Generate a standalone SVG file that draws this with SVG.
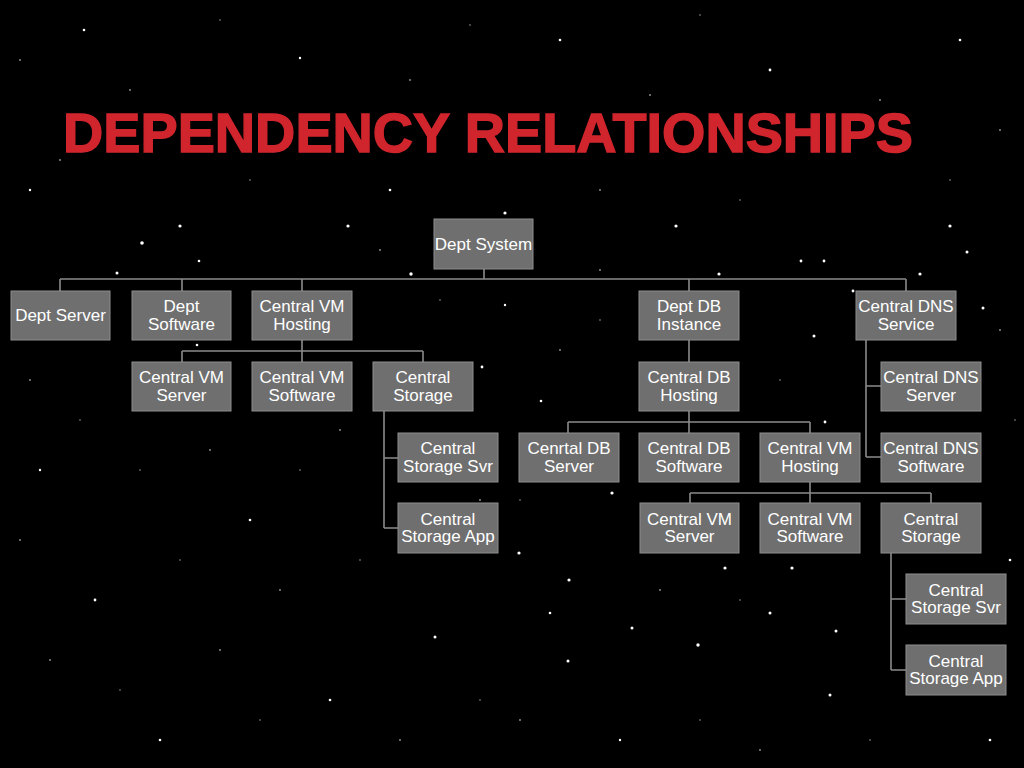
<svg xmlns="http://www.w3.org/2000/svg" width="1024" height="768" viewBox="0 0 1024 768">
<style>
.node rect{fill:#6f6f6f;stroke:#8e8e8e;stroke-width:1}
.node text{fill:#ffffff;font-family:"Liberation Sans",Arial,sans-serif;font-size:17px;text-anchor:middle}
.conn path{fill:none;stroke:#8a8a8a;stroke-width:1.6}
.title{fill:#d1252d;stroke:#d1252d;stroke-width:1.4;font-family:"Liberation Sans",Arial,sans-serif;font-weight:bold;font-size:55px}
.stars circle{fill:#ffffff}
.faint circle{fill:#9a9a9a}
</style>
<rect x="0" y="0" width="1024" height="768" fill="#000000"/>
<g class="stars">
<circle cx="180" cy="226" r="1.6"/><circle cx="142" cy="243" r="1.8"/><circle cx="117" cy="273" r="1.5"/>
<circle cx="348" cy="226" r="1.6"/><circle cx="411" cy="274" r="1.7"/><circle cx="199" cy="261" r="1.3"/>
<circle cx="197" cy="345" r="1.3"/><circle cx="482" cy="367" r="1.4"/><circle cx="505" cy="213" r="1.6"/>
<circle cx="676" cy="226" r="1.6"/><circle cx="950" cy="226" r="1.6"/><circle cx="967" cy="252" r="1.5"/>
<circle cx="801" cy="261" r="1.4"/><circle cx="824" cy="261" r="1.4"/><circle cx="719" cy="274" r="1.6"/>
<circle cx="920" cy="274" r="1.6"/><circle cx="983" cy="308" r="1.5"/><circle cx="814" cy="336" r="1.5"/>
<circle cx="825" cy="422" r="1.4"/><circle cx="541" cy="401" r="1.3"/><circle cx="505" cy="305" r="1.2"/>
<circle cx="853" cy="291" r="1.4"/><circle cx="612" cy="493" r="1.6"/><circle cx="519" cy="553" r="1.6"/>
<circle cx="725" cy="568" r="1.6"/><circle cx="792" cy="568" r="1.6"/><circle cx="569" cy="580" r="1.6"/>
<circle cx="770" cy="613" r="1.5"/><circle cx="632" cy="628" r="1.5"/><circle cx="836" cy="631" r="1.5"/>
<circle cx="435" cy="637" r="1.5"/><circle cx="698" cy="645" r="1.7"/><circle cx="568" cy="661" r="1.5"/>
<circle cx="830" cy="695" r="1.5"/><circle cx="550" cy="613" r="1.3"/><circle cx="84" cy="30" r="1.3"/>
<circle cx="300" cy="58" r="1.2"/><circle cx="560" cy="40" r="1.3"/><circle cx="770" cy="70" r="1.4"/>
<circle cx="960" cy="40" r="1.3"/><circle cx="30" cy="190" r="1.2"/><circle cx="390" cy="190" r="1.3"/>
<circle cx="250" cy="520" r="1.3"/><circle cx="95" cy="600" r="1.4"/><circle cx="330" cy="700" r="1.3"/>
<circle cx="160" cy="740" r="1.3"/><circle cx="40" cy="470" r="1.2"/><circle cx="990" cy="740" r="1.3"/>
<circle cx="620" cy="740" r="1.2"/><circle cx="1010" cy="560" r="1.3"/>
</g>
<g class="faint">
<circle cx="20" cy="60" r="0.9"/><circle cx="130" cy="90" r="0.9"/><circle cx="220" cy="20" r="0.8"/><circle cx="410" cy="80" r="0.9"/>
<circle cx="470" cy="25" r="0.8"/><circle cx="650" cy="95" r="0.9"/><circle cx="700" cy="15" r="0.8"/><circle cx="880" cy="100" r="0.9"/>
<circle cx="1000" cy="130" r="0.9"/><circle cx="950" cy="180" r="0.8"/><circle cx="60" cy="160" r="0.9"/><circle cx="250" cy="180" r="0.8"/>
<circle cx="600" cy="190" r="0.9"/><circle cx="740" cy="200" r="0.8"/><circle cx="30" cy="380" r="0.9"/><circle cx="80" cy="420" r="0.8"/>
<circle cx="20" cy="540" r="0.9"/><circle cx="140" cy="470" r="0.8"/><circle cx="210" cy="450" r="0.9"/><circle cx="300" cy="470" r="0.8"/>
<circle cx="340" cy="430" r="0.9"/><circle cx="180" cy="560" r="0.8"/><circle cx="280" cy="590" r="0.9"/><circle cx="360" cy="560" r="0.8"/>
<circle cx="50" cy="660" r="0.9"/><circle cx="120" cy="690" r="0.8"/><circle cx="220" cy="650" r="0.9"/><circle cx="260" cy="720" r="0.8"/>
<circle cx="400" cy="740" r="0.9"/><circle cx="480" cy="700" r="0.8"/><circle cx="520" cy="720" r="0.9"/><circle cx="700" cy="720" r="0.8"/>
<circle cx="760" cy="750" r="0.9"/><circle cx="870" cy="740" r="0.8"/><circle cx="1000" cy="680" r="0.9"/><circle cx="1015" cy="420" r="0.8"/>
<circle cx="1000" cy="330" r="0.9"/><circle cx="600" cy="320" r="0.8"/><circle cx="560" cy="350" r="0.9"/><circle cx="780" cy="380" r="0.8"/>
<circle cx="600" cy="270" r="0.9"/><circle cx="440" cy="300" r="0.8"/><circle cx="380" cy="250" r="0.9"/><circle cx="830" cy="470" r="0.8"/>
<circle cx="480" cy="500" r="0.9"/><circle cx="520" cy="500" r="0.8"/><circle cx="660" cy="590" r="0.9"/><circle cx="740" cy="600" r="0.8"/>
</g>
<text class="title" x="63" y="152" textLength="850" lengthAdjust="spacingAndGlyphs">DEPENDENCY RELATIONSHIPS</text>
<g class="conn" id="connectors">
<path d="M484 269V279M60 279H906M60 279V291M182 279V291M302 279V291M689 279V291M906 279V291"/>
<path d="M302 340V351M182 351H423M182 351V362M302 351V362M423 351V362"/>
<path d="M384 411V528M384 458H398M384 528H398"/>
<path d="M689 340V362"/>
<path d="M689 411V422M568 422H810M568 422V433M689 422V433M810 422V433"/>
<path d="M866 340V457M866 386H881M866 457H881"/>
<path d="M810 482V493M690 493H931M690 493V503M810 493V503M931 493V503"/>
<path d="M891 553V670M891 599H906M891 670H906"/>
</g>
<g class="node" id="dept-system"><rect x="434" y="219" width="99" height="50"/><text x="483.5" y="250">Dept System</text></g>
<g class="node" id="dept-server"><rect x="11" y="291" width="99" height="49"/><text x="60.5" y="321">Dept Server</text></g>
<g class="node" id="dept-software"><rect x="132" y="291" width="99" height="49"/><text x="181.5" y="312">Dept</text><text x="181.5" y="329.5">Software</text></g>
<g class="node" id="central-vm-hosting"><rect x="252" y="291" width="100" height="49"/><text x="302" y="312">Central VM</text><text x="302" y="329.5">Hosting</text></g>
<g class="node" id="dept-db-instance"><rect x="639" y="291" width="100" height="49"/><text x="689" y="312">Dept DB</text><text x="689" y="329.5">Instance</text></g>
<g class="node" id="central-dns-service"><rect x="856" y="291" width="100" height="49"/><text x="906" y="312">Central DNS</text><text x="906" y="329.5">Service</text></g>
<g class="node" id="central-vm-server"><rect x="132" y="362" width="99" height="49"/><text x="181.5" y="383">Central VM</text><text x="181.5" y="400.5">Server</text></g>
<g class="node" id="central-vm-software"><rect x="252" y="362" width="100" height="49"/><text x="302" y="383">Central VM</text><text x="302" y="400.5">Software</text></g>
<g class="node" id="central-storage"><rect x="373" y="362" width="100" height="49"/><text x="423" y="383">Central</text><text x="423" y="400.5">Storage</text></g>
<g class="node" id="central-db-hosting"><rect x="639" y="362" width="100" height="49"/><text x="689" y="383">Central DB</text><text x="689" y="400.5">Hosting</text></g>
<g class="node" id="central-dns-server"><rect x="881" y="362" width="100" height="49"/><text x="931" y="383">Central DNS</text><text x="931" y="400.5">Server</text></g>
<g class="node" id="central-storage-svr"><rect x="398" y="433" width="100" height="49"/><text x="448" y="454">Central</text><text x="448" y="471.5">Storage Svr</text></g>
<g class="node" id="cenrtal-db-server"><rect x="519" y="433" width="100" height="49"/><text x="569" y="454">Cenrtal DB</text><text x="569" y="471.5">Server</text></g>
<g class="node" id="central-db-software"><rect x="639" y="433" width="100" height="49"/><text x="689" y="454">Central DB</text><text x="689" y="471.5">Software</text></g>
<g class="node" id="central-vm-hosting-2"><rect x="760" y="433" width="100" height="49"/><text x="810" y="454">Central VM</text><text x="810" y="471.5">Hosting</text></g>
<g class="node" id="central-dns-software"><rect x="881" y="433" width="100" height="49"/><text x="931" y="454">Central DNS</text><text x="931" y="471.5">Software</text></g>
<g class="node" id="central-storage-app"><rect x="398" y="503" width="100" height="50"/><text x="448" y="524.5">Central</text><text x="448" y="542">Storage App</text></g>
<g class="node" id="central-vm-server-2"><rect x="640" y="503" width="99" height="50"/><text x="689.5" y="524.5">Central VM</text><text x="689.5" y="542">Server</text></g>
<g class="node" id="central-vm-software-2"><rect x="760" y="503" width="100" height="50"/><text x="810" y="524.5">Central VM</text><text x="810" y="542">Software</text></g>
<g class="node" id="central-storage-2"><rect x="881" y="503" width="100" height="50"/><text x="931" y="524.5">Central</text><text x="931" y="542">Storage</text></g>
<g class="node" id="central-storage-svr-2"><rect x="906" y="574" width="100" height="50"/><text x="956" y="595.5">Central</text><text x="956" y="613">Storage Svr</text></g>
<g class="node" id="central-storage-app-2"><rect x="906" y="645" width="100" height="50"/><text x="956" y="666.5">Central</text><text x="956" y="684">Storage App</text></g>
</svg>
